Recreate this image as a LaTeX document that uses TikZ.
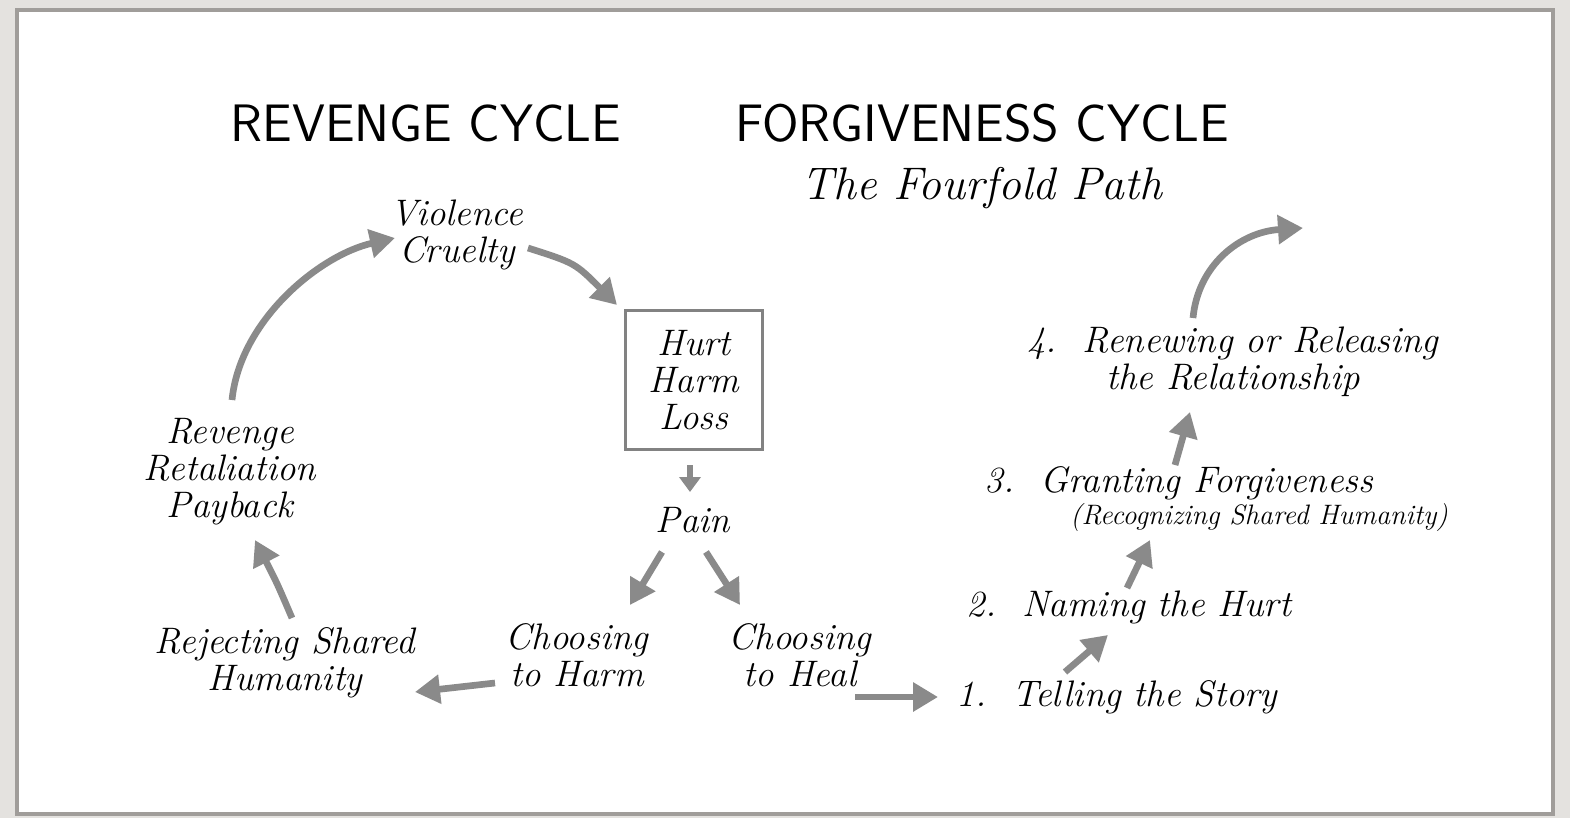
\documentclass[tikz,border=0pt]{standalone}
\usetikzlibrary{arrows.meta,calc}

\definecolor{paper}{RGB}{228,226,223}
\definecolor{framegray}{RGB}{160,157,154}
\definecolor{arrowgray}{RGB}{138,138,138}
\definecolor{boxgray}{RGB}{130,130,130}

\tikzset{
  hand/.style={font=\fontsize{21}{21}\selectfont\itshape, align=center, inner sep=0pt},
  title/.style={font=\fontsize{30}{32}\selectfont\sffamily, inner sep=0pt},
  flow/.style={draw=arrowgray, line width=3.8pt, -{Triangle[length=0.5cm,width=0.56cm]}},
  smallflow/.style={draw=arrowgray, line width=3.4pt, -{Triangle[length=0.3cm,width=0.42cm]}}
}

\begin{document}
\begin{tikzpicture}[x=0.02cm,y=-0.02cm]
\useasboundingbox (0,0) rectangle (1570,818);
\fill [paper] (0,0) rectangle (1570,818);
\draw [framegray, line width=2.3pt, fill=white] (17,10) rectangle (1553,814);

\node [title] (revtitle) at (426,123) {REVENGE CYCLE};
\node [title] (fortitle) at (982,123) {FORGIVENESS CYCLE};
\node [hand, font=\fontsize{26}{28}\selectfont\itshape] (path) at (982,188) {The Fourfold Path};

\node [hand] (violence) at (457,235) {Violence\\Cruelty};
\node [hand, draw=boxgray, line width=1.7pt, minimum width=2.74cm, minimum height=2.8cm] (hurt) at (694,380) {Hurt\\Harm\\Loss};
\node [hand] (pain) at (693,520) {Pain};
\node [hand] (harm) at (577,655) {Choosing\\to Harm};
\node [hand] (heal) at (800,655) {Choosing\\to Heal};
\node [hand] (reject) at (285,663) {Rejecting Shared\\Humanity};
\node [hand] (revenge) at (230,472) {Revenge\\Retaliation\\Payback};

\node [hand] (step1) at (1117,697) {1.\ \ Telling the Story};
\node [hand] (step2) at (1129,607) {2.\ \ Naming the Hurt};
\node [hand] (step3) at (1179,483) {3.\ \ Granting Forgiveness};
\node [hand, font=\fontsize{16}{18}\selectfont\itshape] (shared) at (1259,517) {(Recognizing Shared Humanity)};
\node [hand] (step4) at (1233,362) {4.\ \ Renewing or Releasing\\the Relationship};
\coordinate (beyond) at (1303,228);

\draw [flow] ($(revenge)+(2,-72)$) .. controls ($(revenge)+(10,-152)$) and ($(violence)+(-137,20)$) .. ($(violence)+(-62,3)$);
\draw [flow] ($(violence)+(71,13)$) .. controls ($(violence)+(118,28)$) .. ($(hurt)+(-77,-75)$);
\draw [smallflow] ($(hurt)+(-4,85)$) -- ($(pain)+(-3,-28)$);
\draw [flow] ($(pain)+(-31,32)$) -- ($(harm)+(53,-50)$);
\draw [flow] ($(pain)+(13,32)$) -- ($(heal)+(-60,-50)$);
\draw [flow] ($(harm)+(-82,28)$) -- ($(reject)+(130,29)$);
\draw [flow] ($(reject)+(7,-45)$) .. controls ($(reject)+(-8,-80)$) .. ($(revenge)+(25,68)$);
\draw [flow] ($(heal)+(55,42)$) -- ($(step1)+(-179,0)$);
\draw [flow] ($(step1)+(-52,-25)$) -- ($(step2)+(-21,28)$);
\draw [flow] ($(step2)+(-2,-19)$) -- ($(step3)+(-29,57)$);
\draw [flow] ($(step3)+(-4,-18)$) -- ($(step4)+(-43,50)$);
\draw [flow] ($(step4)+(-40,-44)$) .. controls ($(step4)+(-35,-97)$) and ($(beyond)+(-63,4)$) .. (beyond);
\end{tikzpicture}
\end{document}
